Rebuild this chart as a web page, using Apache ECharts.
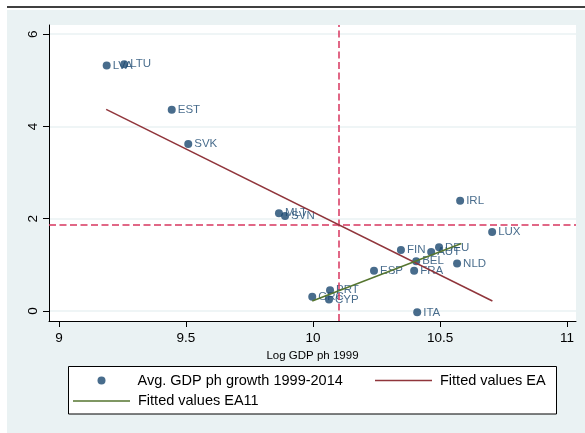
<!DOCTYPE html>
<html><head><meta charset="utf-8">
<script src="https://cdn.jsdelivr.net/npm/echarts@6/dist/echarts.min.js"></script>
<style>html,body{margin:0;padding:0;background:#fff;}#c{width:585px;height:433px;}</style>
</head><body><div id="c"></div>
<script>
// ---- data ----
const countries = ['LVA','LTU','EST','SVK','MLT','SVN','IRL','LUX','FIN','DEU','AUT','BEL','NLD','ESP','FRA','PRT','GRC','CYP','ITA'];
const logGdp1999 = [9.188,9.257,9.444,9.509,9.866,9.890,10.579,10.705,10.346,10.496,10.465,10.406,10.567,10.240,10.398,10.067,9.997,10.063,10.410];
const avgGrowth  = [5.32,5.35,4.36,3.62,2.12,2.06,2.39,1.71,1.32,1.38,1.28,1.08,1.03,0.87,0.87,0.45,0.31,0.25,-0.03];
const fitEAx   = [9.186, 10.706];
const fitEAy   = [4.37, 0.217];
const fitEA11x = [9.997, 10.584];
const fitEA11y = [0.217, 1.463];
const meanLogGdp = 10.097;
const meanGrowth = 1.875;
const xTicks = [9, 9.5, 10, 10.5, 11];
const yTicks = [0, 2, 4, 6];

const FONT = '"Liberation Sans", Arial, Helvetica, sans-serif';
const NAVY = '#1a476f';
const points = countries.map((c, i) => [logGdp1999[i], avgGrowth[i], c]);
const fitEA = fitEAx.map((x, i) => [x, fitEAy[i]]);
const fitEA11 = fitEA11x.map((x, i) => [x, fitEA11y[i]]);

const chart = echarts.init(document.getElementById('c'));
const legendText = {fontSize: 14.5, color: '#000', fontFamily: FONT, lineHeight: 17};
chart.setOption({
  animation: false,
  backgroundColor: '#fff',
  graphic: [
    {type: 'rect', z: -10, silent: true, shape: {x: 7, y: 10, width: 578, height: 423}, style: {fill: '#eaf2f3'}},
    {type: 'line', z: -10, silent: true, shape: {x1: 7, y1: 7, x2: 585, y2: 7}, style: {stroke: '#000', lineWidth: 1.5}},
    {type: 'rect', z: -5, silent: true, shape: {x: 68.5, y: 366.5, width: 488, height: 47.5}, style: {fill: '#fff', stroke: '#000', lineWidth: 1}}
  ],
  grid: {left: 49, top: 25, right: 9, bottom: 112, show: true, backgroundColor: '#fff', borderWidth: 0},
  xAxis: {
    type: 'value', min: 8.961, max: 11.035,
    name: 'Log GDP ph 1999', nameLocation: 'middle', nameGap: 28,
    nameTextStyle: {fontSize: 11.5, color: '#000', fontFamily: FONT},
    axisLine: {show: true, onZero: false, lineStyle: {color: '#000', width: 1}},
    axisTick: {show: true, length: 6, customValues: xTicks, lineStyle: {color: '#000'}},
    axisLabel: {customValues: xTicks, fontSize: 13.5, color: '#000', fontFamily: FONT, margin: 10},
    splitLine: {show: false}
  },
  yAxis: {
    type: 'value', min: -0.217, max: 6.2,
    axisLine: {show: true, onZero: false, lineStyle: {color: '#000', width: 1}},
    axisTick: {show: true, length: 6, customValues: yTicks, lineStyle: {color: '#000'}},
    axisLabel: {customValues: yTicks, rotate: 90, fontSize: 13.5, color: '#000', fontFamily: FONT, margin: 9},
    splitLine: {show: true, lineStyle: {color: '#eaf2f3', width: 1.5}}
  },
  legend: [
    {data: [{name: 'Avg. GDP ph growth 1999-2014', icon: 'circle'}], left: 97.5, top: 372, padding: 0,
     itemWidth: 8, itemHeight: 8, selectedMode: false,
     textStyle: Object.assign({padding: [0, 0, 0, 27]}, legendText)},
    {data: [{name: 'Fitted values EA', icon: 'rect'}], left: 375, top: 372, padding: 0,
     itemWidth: 57, itemHeight: 1.5, selectedMode: false, textStyle: Object.assign({padding: [0, 0, 0, 3]}, legendText)},
    {data: [{name: 'Fitted values EA11', icon: 'rect'}], left: 73, top: 392.5, padding: 0,
     itemWidth: 57, itemHeight: 1.5, selectedMode: false, textStyle: Object.assign({padding: [0, 0, 0, 3]}, legendText)}
  ],
  series: [
    {
      name: 'Avg. GDP ph growth 1999-2014', type: 'scatter', data: points, symbolSize: 8, z: 4,
      itemStyle: {color: NAVY},
      label: {show: true, position: 'right', distance: 2, formatter: p => p.data[2],
              fontSize: 11.5, color: NAVY, fontFamily: FONT},
      labelLayout: {hideOverlap: false},
      markLine: {
        silent: true, symbol: 'none', label: {show: false},
        lineStyle: {type: [7, 3.5], color: '#d7365f', width: 1.5},
        data: [{xAxis: meanLogGdp}, {yAxis: meanGrowth}]
      }
    },
    {
      name: 'Fitted values EA', type: 'line', data: fitEA, symbol: 'none', z: 5,
      lineStyle: {color: '#90353b', width: 1.5}, itemStyle: {color: '#90353b'}
    },
    {
      name: 'Fitted values EA11', type: 'line', data: fitEA11, symbol: 'none', z: 5,
      lineStyle: {color: '#55752f', width: 1.5}, itemStyle: {color: '#55752f'}
    }
  ]
});
</script>
</body></html>
